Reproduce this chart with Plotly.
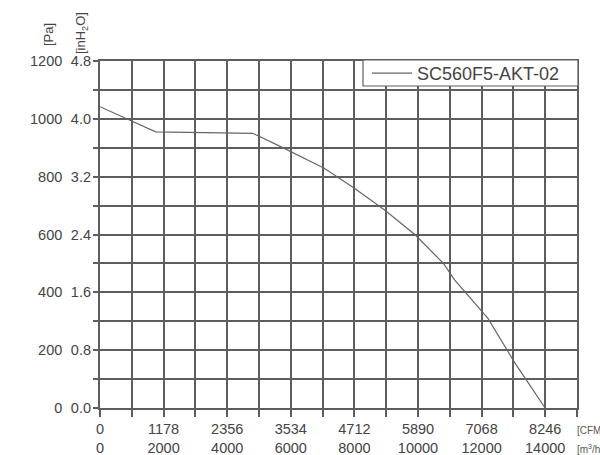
import plotly.graph_objects as go

# airflow (m3/h) vs static pressure (Pa)
flow_m3h = [0, 1750, 4800, 5700, 7050, 8000, 8950, 9900, 10800, 11150, 12200, 13050, 14000]
pressure_pa = [1042, 955, 950, 903, 829, 760, 685, 600, 500, 443, 310, 155, 0]
series_name = 'SC560F5-AKT-02'

x_tickvals = [0, 2000, 4000, 6000, 8000, 10000, 12000, 14000]
cfm_labels = ['0', '1178', '2356', '3534', '4712', '5890', '7068', '8246']
pa_tickvals = [0, 200, 400, 600, 800, 1000, 1200]
inh2o_tickvals = [0, 0.8, 1.6, 2.4, 3.2, 4.0, 4.8]
inh2o_labels = ['0.0', '0.8', '1.6', '2.4', '3.2', '4.0', '4.8']

grid = '#5e5e5e'
txt = '#444444'
fnt = 'Liberation Sans, Arial, sans-serif'

W, H = 600, 455
ML, MR, MT, MB = 100, 23, 61, 47
PW, PH = W - ML - MR, H - MT - MB

fig = go.Figure()
fig.add_trace(go.Scatter(
    x=flow_m3h, y=pressure_pa, mode='lines', name=series_name,
    line=dict(color='#666666', width=1.2), showlegend=True
))
# invisible trace to carry the inH2O axis
fig.add_trace(go.Scatter(
    x=[0, 15000], y=[0, 4.8], yaxis='y2', mode='lines',
    line=dict(width=0), hoverinfo='skip', showlegend=False
))

# x tick labels: CFM on first row, m3/h on second
x_ticktext = [f'{c}<br>{m}' for c, m in zip(cfm_labels, x_tickvals)]
x_all = list(range(0, 15001, 1000))
y_all = list(range(0, 1201, 100))

fig.update_layout(
    width=W, height=H,
    margin=dict(l=ML, r=MR, t=MT, b=MB),
    paper_bgcolor='white', plot_bgcolor='white',
    font=dict(family=fnt, size=14.5, color=txt),
    showlegend=True,
    legend=dict(x=267 / PW, y=1 - 12.5 / PH, xanchor='left', yanchor='middle',
                bgcolor='rgba(0,0,0,0)', borderwidth=0,
                font=dict(size=18, color=txt), itemwidth=40,
                tracegroupgap=0),
    xaxis=dict(
        range=[0, 15000], tickmode='array', tickvals=x_all,
        ticktext=[x_ticktext[x_tickvals.index(v)] if v in x_tickvals else '' for v in x_all],
        showgrid=True, gridcolor=grid, gridwidth=1.6,
        showline=True, linecolor=grid, linewidth=1.6, mirror=True,
        ticks='outside', ticklen=7, tickcolor=grid, tickwidth=1.6,
        zeroline=False, tickangle=0, automargin=False,
    ),
    yaxis=dict(
        range=[0, 1200], tickmode='array', tickvals=y_all,
        ticktext=[str(v) if v in pa_tickvals else '' for v in y_all],
        showgrid=True, gridcolor=grid, gridwidth=1.6,
        showline=True, linecolor=grid, linewidth=1.6, mirror=True,
        ticks='outside', ticklen=5, tickcolor=grid, tickwidth=1.6,
        zeroline=False, ticklabelstandoff=28, automargin=False,
    ),
    yaxis2=dict(
        range=[0, 4.8], overlaying='y', side='left',
        tickmode='array', tickvals=inh2o_tickvals, ticktext=inh2o_labels,
        showgrid=False, zeroline=False, showline=False,
        ticks='', ticklabelstandoff=8, automargin=False,
    ),
    shapes=[
        # legend frame, white so it hides the grid behind it
        dict(type='rect', xref='paper', yref='paper', layer='above',
             x0=263 / PW, x1=1 + 1 / PW, y0=1 - 25 / PH, y1=1 + 1 / PH,
             fillcolor='white', line=dict(color=grid, width=1.2)),
    ],
    annotations=[
        dict(text='[Pa]', x=-52 / PW, y=1 + 26 / PH, xref='paper', yref='paper',
             xanchor='center', yanchor='middle', showarrow=False,
             textangle=-90, font=dict(size=13, color=txt)),
        dict(text='[inH<sub>2</sub>O]', x=-18 / PW, y=1 + 28 / PH, xref='paper', yref='paper',
             xanchor='center', yanchor='middle', showarrow=False, textangle=-90,
             font=dict(size=13, color=txt)),
        dict(text='[CFM', x=1 - 2 / PW, y=0, xref='paper', yref='paper', xanchor='left', yanchor='top',
             yshift=-15, showarrow=False, font=dict(size=10, color='#555555')),
        dict(text='[m<sup>3</sup>/h]', x=1 - 2 / PW, y=0, xref='paper', yref='paper', xanchor='left',
             yanchor='top', yshift=-33, showarrow=False, font=dict(size=10, color='#555555')),
    ],
)

# drop the default page margin so the figure sits at the window's corner
fig.write_html('out.html', config={'displayModeBar': False},
               post_script="document.body.style.margin='0';document.body.style.overflow='hidden';")
